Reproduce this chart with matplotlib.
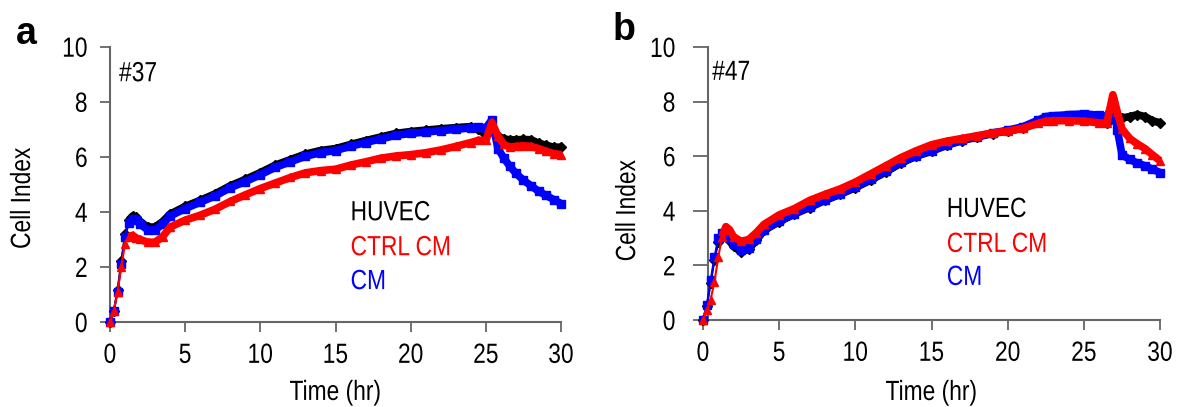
import matplotlib
matplotlib.use("Agg")
import matplotlib.pyplot as plt
import numpy as np
from matplotlib.patheffects import AbstractPathEffect
from matplotlib.transforms import Affine2D

plt.rcParams['font.family'] = ['Liberation Sans', 'DejaVu Sans']

# ---- panel a (#37) ----
time_a = [0, 0.25, 0.5, 0.75, 1.0, 1.25, 1.5, 1.75, 2.0, 2.5, 3.0, 3.5, 4, 5, 6, 7, 8, 9, 10,
          11, 12, 13, 14, 15, 16, 17, 18, 19, 20, 21, 22, 23, 24, 24.5, 25, 25.4, 25.8, 26.2,
          26.6, 27, 27.5, 28, 28.5, 29, 29.5, 30]
huvec_a = [0, 0.4, 1.15, 2.2, 3.2, 3.7, 3.85, 3.8, 3.65, 3.45, 3.45, 3.65, 3.92, 4.2, 4.42, 4.66,
           4.95, 5.18, 5.43, 5.7, 5.9, 6.1, 6.23, 6.3, 6.45, 6.59, 6.72, 6.85, 6.92, 6.97, 7.02,
           7.06, 7.1, 7.0, 6.8, 7.05, 6.75, 6.65, 6.62, 6.62, 6.63, 6.62, 6.5, 6.42, 6.35, 6.35]
ctrl_a = [0, 0.4, 1.1, 2.0, 2.85, 3.1, 3.15, 3.05, 3.0, 2.9, 2.9, 3.1, 3.45, 3.7, 3.88, 4.1,
          4.38, 4.62, 4.85, 5.05, 5.25, 5.42, 5.5, 5.55, 5.7, 5.82, 5.95, 6.03, 6.08, 6.15, 6.25,
          6.38, 6.52, 6.6, 6.6, 7.25, 6.75, 6.45, 6.35, 6.38, 6.4, 6.38, 6.3, 6.2, 6.12, 6.08]
cm_a = [0, 0.4, 1.1, 2.1, 3.1, 3.6, 3.75, 3.7, 3.55, 3.35, 3.35, 3.55, 3.85, 4.12, 4.35, 4.58,
        4.88, 5.1, 5.35, 5.62, 5.82, 6.02, 6.15, 6.23, 6.38, 6.52, 6.65, 6.78, 6.85, 6.9, 6.95,
        7.0, 7.05, 7.08, 7.05, 7.35, 6.3, 5.95, 5.65, 5.4, 5.15, 4.95, 4.75, 4.6, 4.45, 4.3]

# ---- panel b (#47) ----
time_b = [0, 0.25, 0.5, 0.75, 1.0, 1.25, 1.5, 1.75, 2.0, 2.5, 3.0, 3.5, 4, 5, 6, 7, 8, 9, 10,
          11, 12, 13, 14, 15, 16, 17, 18, 19, 20, 21, 22, 22.5, 23, 24, 25, 26, 26.5, 26.9,
          27.2, 27.5, 28, 28.5, 29, 29.5, 30]
huvec_b = [0, 0.5, 1.35, 2.2, 2.85, 3.05, 3.05, 2.9, 2.7, 2.5, 2.6, 2.92, 3.28, 3.6, 3.88, 4.12,
           4.38, 4.6, 4.85, 5.12, 5.42, 5.75, 6.0, 6.18, 6.4, 6.57, 6.7, 6.83, 6.92, 7.02, 7.25,
           7.35, 7.38, 7.42, 7.45, 7.35, 7.22, 7.6, 7.3, 7.4, 7.45, 7.52, 7.45, 7.3, 7.22]
ctrl_b = [0, 0.35, 0.75, 1.4, 2.3, 3.05, 3.42, 3.3, 3.05, 2.88, 2.95, 3.2, 3.5, 3.85, 4.08, 4.38,
          4.6, 4.8, 5.05, 5.35, 5.65, 5.95, 6.2, 6.42, 6.55, 6.65, 6.75, 6.85, 6.92, 7.02, 7.2,
          7.28, 7.3, 7.3, 7.28, 7.22, 7.2, 8.25, 7.6, 7.0, 6.65, 6.45, 6.28, 6.05, 5.83]
cm_b = [0, 0.55, 1.45, 2.3, 3.0, 3.2, 3.15, 3.0, 2.8, 2.58, 2.65, 2.95, 3.3, 3.62, 3.9, 4.15,
        4.4, 4.62, 4.88, 5.15, 5.45, 5.78, 6.02, 6.2, 6.42, 6.58, 6.72, 6.85, 6.95, 7.08, 7.32,
        7.45, 7.48, 7.52, 7.55, 7.5, 7.45, 7.9, 6.95, 6.05, 5.88, 5.75, 5.65, 5.52, 5.4]

labels = ['HUVEC', 'CTRL CM', 'CM']
label_colors = ['black', '#ff0000', '#0000ff']
xticks = [0, 5, 10, 15, 20, 25, 30]
yticks = [0, 2, 4, 6, 8, 10]

SQ = 0.82  # no narrow font installed, squeeze Liberation Sans sideways


class Squeeze(AbstractPathEffect):
    """draw text narrower; align 0 = left, 0.5 = centre, 1 = right"""
    def __init__(self, sx=SQ, align=0.0):
        super().__init__()
        self.sx = sx
        self.align = align

    def draw_path(self, renderer, gc, tpath, affine, rgbFace=None):
        w = tpath.get_extents().x1
        pre = Affine2D().scale(self.sx, 1).translate((1 - self.sx) * w * self.align, 0)
        renderer.draw_path(gc, tpath, pre + affine, rgbFace)


fig = plt.figure(figsize=(11.78, 4.07), dpi=100)
ax_a = fig.add_axes([0.0934, 0.2088, 0.3829, 0.6764])
ax_b = fig.add_axes([0.5968, 0.2138, 0.388, 0.6708])


def draw_series(ax, t, y, color, marker):
    t = np.asarray(t)
    y = np.asarray(y)
    ax.plot(t, y, color=color, lw=1.5, clip_on=False, zorder=3)
    late = t >= 1.25
    ax.plot(t[late], y[late], color=color, lw=5.5, solid_capstyle='butt', clip_on=False, zorder=3)
    ax.plot(t, y, ls='none', marker=marker, ms=5.5, color=color, clip_on=False, zorder=3)


def style_axis(ax, sample, sample_y, txt_y, ylab_pos, xlab_y, ytick_len, ypad, spine_x):
    ax.set_xlim(0, 30)
    ax.set_ylim(0, 10)
    for s in ['top', 'right']:
        ax.spines[s].set_visible(False)
    for s in ['left', 'bottom']:
        ax.spines[s].set_color('#666666')
        ax.spines[s].set_linewidth(1.5)
    ax.spines['left'].set_position(('data', spine_x))
    ax.spines['bottom'].set_bounds(spine_x, 30)
    ax.set_xticks(xticks)
    ax.set_yticks(yticks)
    ax.tick_params(direction='out', width=1.3, color='#666666', labelsize=20)
    ax.tick_params(axis='x', length=7, pad=8)
    ax.tick_params(axis='y', length=ytick_len, pad=ypad)
    for lab in ax.get_xticklabels():
        lab.set_path_effects([Squeeze(align=0.5)])
    for lab in ax.get_yticklabels():
        lab.set_path_effects([Squeeze(align=1.0)])
    ax.text(0.5, xlab_y, 'Time (hr)', transform=ax.transAxes, fontsize=20,
            ha='center', va='baseline', path_effects=[Squeeze(align=0.5)])
    ax.text(ylab_pos[0], ylab_pos[1], 'Cell Index', transform=ax.transAxes, fontsize=20,
            rotation=90, ha='center', va='center', path_effects=[Squeeze(align=0.5)])
    ax.text(0.6, sample_y, sample, fontsize=20, va='center', ha='left',
            path_effects=[Squeeze(align=0.0)])
    for lab, c, yy in zip(labels, label_colors, txt_y):
        ax.text(16.0, yy, lab, color=c, fontsize=20, va='center', ha='left',
                path_effects=[Squeeze(align=0.0)])


for t, ys, ax in [(time_a, [huvec_a, cm_a, ctrl_a], ax_a), (time_b, [huvec_b, cm_b, ctrl_b], ax_b)]:
    for y, c, m in zip(ys, ['black', '#0000ff', '#ff0000'], ['D', 's', '^']):
        draw_series(ax, t, y, c, m)

style_axis(ax_a, '#37', 9.0, [3.95, 2.68, 1.45], (-0.193, 0.449), -0.283, 7, 9, 0)
style_axis(ax_b, '#47', 9.05, [4.03, 2.75, 1.54], (-0.164, 0.40), -0.293, 11, 12, 0.3)

fig.text(26 / 1178, 1 - 34 / 407, 'a', fontsize=27, fontweight='bold',
         ha='center', va='center')
fig.text(624 / 1178, 1 - 30 / 407, 'b', fontsize=27, fontweight='bold',
         ha='center', va='center')

fig.savefig('out.png', dpi=100)
